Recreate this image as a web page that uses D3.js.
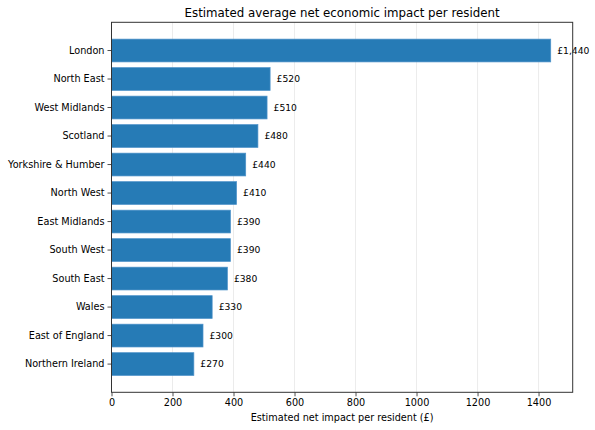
<!DOCTYPE html>
<html>
<head>
<meta charset="utf-8">
<script src="https://cdn.jsdelivr.net/npm/d3@7"></script>
<style>
  html, body { margin: 0; padding: 0; background: #fff; }
  svg { display: block; font-family: "DejaVu Sans", sans-serif; }
</style>
</head>
<body>
<svg id="chart" width="595" height="430"></svg>
<script>
const regions = ["London", "North East", "West Midlands", "Scotland", "Yorkshire & Humber", "North West",
  "East Midlands", "South West", "South East", "Wales", "East of England", "Northern Ireland"];
const impacts = [1440, 520, 510, 480, 440, 410, 390, 390, 380, 330, 300, 270];
const xTicks = [0, 200, 400, 600, 800, 1000, 1200, 1400];
const titleText = "Estimated average net economic impact per resident";
const xLabelText = "Estimated net impact per resident (£)";

const data = regions.map((r, i) => ({ region: r, value: impacts[i] }));

const W = 595, H = 430;
const margin = { top: 22.3, right: 22.3, bottom: 37.7, left: 111.5 };
const iw = W - margin.left - margin.right;
const ih = H - margin.top - margin.bottom;

const svg = d3.select("#chart");
const g = svg.append("g").attr("transform", `translate(${margin.left},${margin.top})`);

const x = d3.scaleLinear().domain([0, d3.max(impacts) * 1.05]).range([0, iw]);
const y = d3.scaleBand().domain(regions).range([0, ih]).paddingInner(0.2).paddingOuter(0.59);

// grid
g.append("g").selectAll("line").data(xTicks).join("line")
  .attr("x1", d => x(d)).attr("x2", d => x(d))
  .attr("y1", 0).attr("y2", ih)
  .attr("stroke", "#e6e6e6").attr("stroke-width", 0.8);

// bars
g.append("g").selectAll("rect").data(data).join("rect")
  .attr("x", x(0))
  .attr("y", d => y(d.region))
  .attr("width", d => x(d.value) - x(0))
  .attr("height", y.bandwidth())
  .attr("fill", "#1f77b4")
  .attr("fill-opacity", 0.97)
  .attr("stroke", "#4d92c9")
  .attr("stroke-width", 0.7);

// value labels
const fmt = d3.format(",");
g.append("g").selectAll("text").data(data).join("text")
  .attr("x", d => x(d.value) + 6.5)
  .attr("y", d => y(d.region) + y.bandwidth() / 2)
  .attr("dy", "0.35em")
  .attr("font-size", "9.2px")
  .attr("fill", "#000")
  .text(d => "£" + fmt(d.value));

// axes
const xAxis = g.append("g").attr("transform", `translate(0,${ih})`)
  .call(d3.axisBottom(x).tickValues(xTicks).tickFormat(d3.format("d")).tickSizeOuter(0).tickSize(4).tickPadding(3));
const yAxis = g.append("g")
  .call(d3.axisLeft(y).tickSizeOuter(0).tickSize(4).tickPadding(3));

[xAxis, yAxis].forEach(a => {
  a.select(".domain").remove();
  a.selectAll("line").attr("stroke", "#222").attr("stroke-width", 0.8);
  a.selectAll("text").attr("font-size", "9.7px").attr("fill", "#000").attr("font-family", "DejaVu Sans");
});

// frame
g.append("rect").attr("x", 0).attr("y", 0).attr("width", iw).attr("height", ih)
  .attr("fill", "none").attr("stroke", "#333").attr("stroke-width", 1);

// title
svg.append("text")
  .attr("x", margin.left + iw / 2).attr("y", 17.3)
  .attr("text-anchor", "middle")
  .attr("font-size", "11.8px").attr("fill", "#000")
  .text(titleText);

// x label
svg.append("text")
  .attr("x", margin.left + iw / 2).attr("y", 421)
  .attr("text-anchor", "middle")
  .attr("font-size", "9.7px").attr("fill", "#000")
  .text(xLabelText);
</script>
</body>
</html>
